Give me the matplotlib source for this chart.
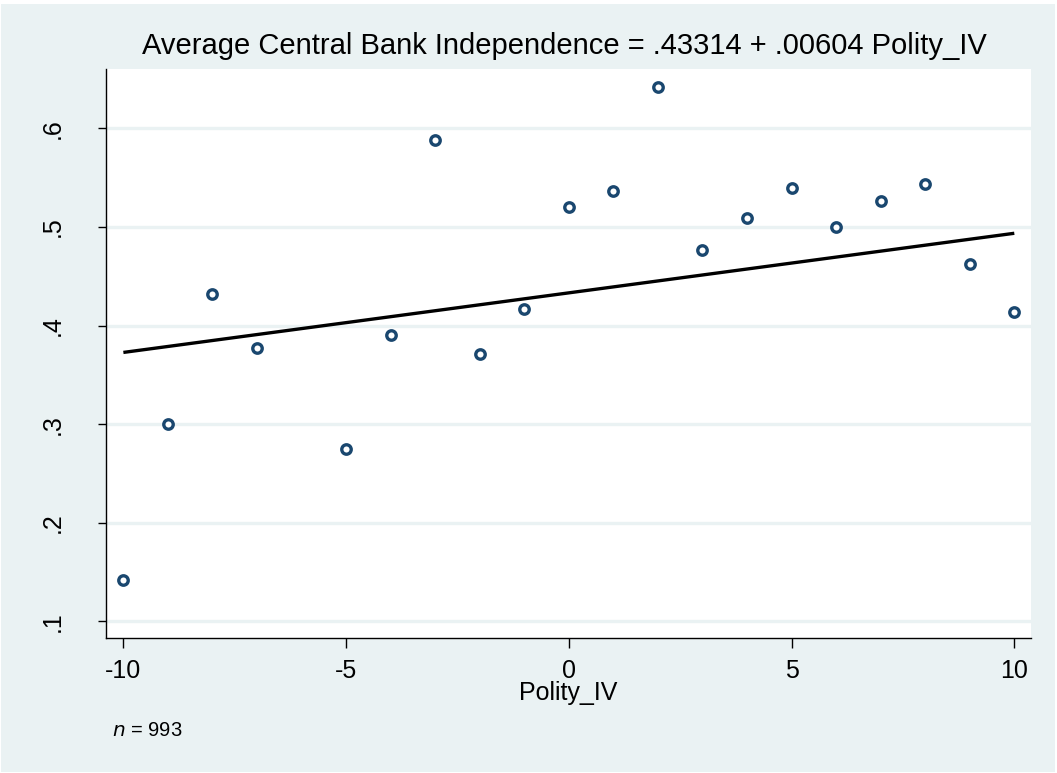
import matplotlib
matplotlib.use("Agg")
import matplotlib.pyplot as plt
from matplotlib.patches import Rectangle

polity = [-10, -9, -8, -7, -5, -4, -3, -2, -1, 0, 1, 2, 3, 4, 5, 6, 7, 8, 9, 10]
cbi = [0.1417, 0.3005, 0.4323, 0.3775, 0.2745, 0.3905, 0.5884, 0.3708, 0.4168, 0.5199,
       0.5367, 0.6419, 0.4763, 0.5090, 0.5398, 0.4999, 0.5260, 0.5432, 0.4624, 0.4134]
intercept = 0.43314
slope = 0.00604
xticks = [-10, -5, 0, 5, 10]
xticklabels = ["-10", "-5", "0", "5", "10"]
yticks = [0.1, 0.2, 0.3, 0.4, 0.5, 0.6]
yticklabels = [".1", ".2", ".3", ".4", ".5", ".6"]
title = "Average Central Bank Independence = .43314 + .00604 Polity_IV"

plt.rcParams['font.family'] = ['Liberation Sans', 'DejaVu Sans']
W, H = 1057, 773
bg = "#EAF2F3"
navy = "#1A476F"

fig = plt.figure(figsize=(W / 100, H / 100), dpi=100)
fig.patch.set_facecolor("white")
fig.patches.append(Rectangle((1 / W, 1 - 772 / H), 1054 / W, 768 / H,
                             transform=fig.transFigure, facecolor=bg,
                             edgecolor="none", zorder=-10))

ax = fig.add_axes([106 / W, 1 - 638 / H, 925 / W, 569 / H])
ax.set_facecolor("white")
ax.set_xlim(-10.39, 10.375)
ax.set_ylim(0.0832, 0.6601)

for yv in yticks:
    ax.axhline(yv, color=bg, lw=2.4, zorder=1)

xs = [min(polity), max(polity)]
ax.plot(xs, [intercept + slope * x for x in xs], color="black", lw=2.4, zorder=3,
        solid_capstyle="butt")
ax.plot(polity, cbi, linestyle="none", marker="o", markersize=6.8,
        markerfacecolor="white", markeredgecolor=navy, markeredgewidth=2.4, zorder=4)

for s in ["top", "right"]:
    ax.spines[s].set_visible(False)
for s in ["left", "bottom"]:
    ax.spines[s].set_color("black")
    ax.spines[s].set_linewidth(1.0)

ax.set_xticks(xticks)
ax.set_xticklabels(xticklabels)
ax.set_yticks(yticks)
ax.set_yticklabels(yticklabels, rotation=90, va="center")
ax.tick_params(axis="x", direction="out", length=7, width=1, labelsize=18, pad=8)
ax.tick_params(axis="y", direction="out", length=6, width=1, labelsize=18, pad=24)

fig.text(564 / W, 1 - 46 / H, title, ha="center", va="center", fontsize=21)
fig.text(568 / W, 1 - 693 / H, "Polity_IV", ha="center", va="center", fontsize=18)
fig.text(112 / W, 1 - 730 / H, r"$n$ = 993", ha="left", va="center", fontsize=14.5,
         math_fontfamily="dejavusans")

fig.savefig("out.png", dpi=100, facecolor=fig.get_facecolor())
